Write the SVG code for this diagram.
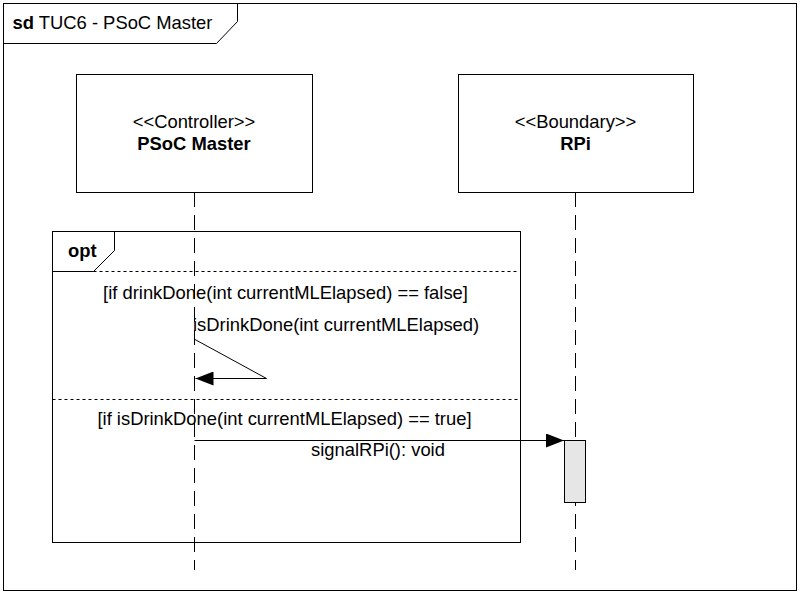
<svg xmlns="http://www.w3.org/2000/svg" width="801" height="595" viewBox="0 0 801 595">
<defs>
<style>
.ln{fill:none;stroke:#000;stroke-width:1}
.box{fill:#fff;stroke:#000;stroke-width:1}
.life{fill:none;stroke:#000;stroke-width:1;stroke-dasharray:15 8}
.sep{fill:none;stroke:#000;stroke-width:1;stroke-dasharray:3 3}
.t{font-family:"Liberation Sans",Arial,sans-serif;font-size:18.4px;fill:#000}
.b{font-weight:bold}
.c{text-anchor:middle}
</style>
<marker id="arr" markerUnits="userSpaceOnUse" markerWidth="20" markerHeight="14" refX="18" refY="7" orient="auto">
<path d="M0,0 L18,7 L0,14 Z" fill="#000"/>
</marker>
</defs>
<rect x="0" y="0" width="801" height="595" fill="#fff"/>
<g id="frame">
<rect class="ln" x="3.5" y="3.5" width="793" height="587"/>
<path class="ln" d="M3.5,43.5 H216.5 L237.5,21.5 V3.5"/>
<text class="t" x="12.5" y="28.5"><tspan font-weight="bold">sd</tspan> TUC6 - PSoC Master</text>
</g>
<g id="lifelines">
<line class="life" x1="194.5" y1="192" x2="194.5" y2="570"/>
<line class="life" x1="575.5" y1="192" x2="575.5" y2="570"/>
</g>
<g id="psoc-master">
<rect class="box" x="76.5" y="74.5" width="236" height="118"/>
<text class="t c" x="194" y="128">&lt;&lt;Controller&gt;&gt;</text>
<text class="t b c" x="194" y="150">PSoC Master</text>
</g>
<g id="rpi">
<rect class="box" x="458.5" y="74.5" width="235" height="118"/>
<text class="t c" x="575.5" y="128">&lt;&lt;Boundary&gt;&gt;</text>
<text class="t b c" x="575.5" y="150">RPi</text>
</g>
<g id="opt-fragment">
<rect class="ln" x="52.5" y="231.5" width="468" height="311"/>
<path class="ln" d="M52.5,271.5 H93.5 L114.5,250.5 V231.5"/>
<text class="t b" x="68" y="257">opt</text>
<line class="sep" x1="93.5" y1="271.5" x2="518" y2="271.5"/>
<line class="sep" x1="52.5" y1="399.5" x2="518" y2="399.5"/>
<text class="t c" x="285.5" y="299">[if drinkDone(int currentMLElapsed) == false]</text>
<text class="t c" x="284.5" y="425">[if isDrinkDone(int currentMLElapsed) == true]</text>
</g>
<g id="activation-rpi">
<rect x="564.5" y="440.5" width="21" height="62" fill="#e6e6e6" stroke="#000" stroke-width="1"/>
</g>
<g id="connectors">
<path class="ln" d="M195,339.5 L266.5,378.5 H195.5" marker-end="url(#arr)"/>
<text class="t" x="193" y="331">isDrinkDone(int currentMLElapsed)</text>
<line class="ln" x1="194.5" y1="440.5" x2="564" y2="440.5" marker-end="url(#arr)"/>
<text class="t c" x="378" y="456">signalRPi(): void</text>
</g>
</svg>
